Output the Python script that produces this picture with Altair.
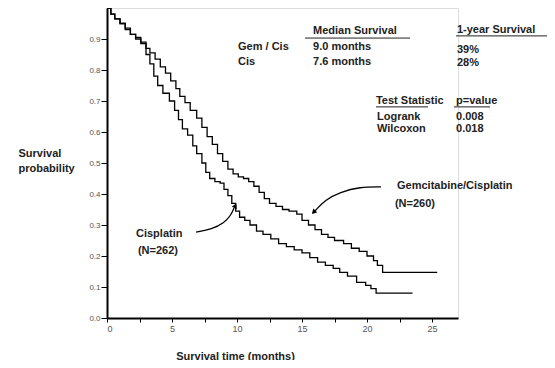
import altair as alt
import pandas as pd

FONT = "Liberation Sans"
INK = "#222222"

# Kaplan-Meier curves (months, survival probability)
gem_months = [0, 0.3, 0.6, 1.0, 1.4, 1.8, 2.2, 2.6, 3.0, 3.3, 3.7, 4.1, 4.5, 4.9, 5.3, 5.6,
              6.0, 6.4, 6.9, 7.3, 7.7, 8.1, 8.5, 8.9, 9.3, 9.7, 10.1, 10.5, 10.9, 11.3, 11.7,
              12.1, 12.5, 13.0, 13.5, 14.0, 14.6, 15.0, 15.5, 16.0, 16.5, 17.0, 17.5, 18.2,
              18.8, 19.4, 20.0, 20.5, 20.8, 21.2, 25.4]
gem_surv = [1.0, 0.98, 0.965, 0.95, 0.935, 0.915, 0.905, 0.89, 0.87, 0.855, 0.835, 0.81, 0.79,
            0.765, 0.74, 0.715, 0.695, 0.67, 0.645, 0.615, 0.585, 0.56, 0.53, 0.505, 0.48, 0.465,
            0.455, 0.45, 0.44, 0.425, 0.405, 0.385, 0.37, 0.36, 0.35, 0.345, 0.335, 0.315, 0.30,
            0.285, 0.27, 0.26, 0.25, 0.24, 0.225, 0.215, 0.20, 0.185, 0.17, 0.147, 0.147]

cis_months = [0, 0.3, 0.6, 1.0, 1.4, 1.8, 2.2, 2.6, 3.0, 3.3, 3.6, 3.9, 4.3, 4.8, 5.2, 5.5,
              5.8, 6.2, 6.6, 6.9, 7.3, 7.6, 7.9, 8.3, 8.7, 9.0, 9.3, 9.6, 9.9, 10.2, 10.6,
              11.0, 11.5, 12.0, 12.6, 13.2, 13.8, 14.4, 15.0, 15.6, 16.2, 16.8, 17.4, 17.9,
              18.5, 19.2, 19.9, 20.3, 20.7, 23.5]
cis_surv = [1.0, 0.98, 0.965, 0.95, 0.93, 0.915, 0.90, 0.885, 0.85, 0.82, 0.78, 0.75, 0.725,
            0.70, 0.67, 0.64, 0.61, 0.59, 0.555, 0.53, 0.50, 0.47, 0.45, 0.44, 0.435, 0.415,
            0.395, 0.37, 0.345, 0.325, 0.315, 0.30, 0.28, 0.27, 0.255, 0.24, 0.23, 0.22, 0.21,
            0.195, 0.18, 0.17, 0.16, 0.147, 0.135, 0.115, 0.105, 0.095, 0.08, 0.08]

x_ticks = [0, 2.5, 5, 7.5, 10, 12.5, 15, 17.5, 20, 22.5, 25]
y_ticks = [0.0, 0.1, 0.2, 0.3, 0.4, 0.5, 0.6, 0.7, 0.8, 0.9]

# annotation texts (month, probability)
ann_text = ["Gem / Cis", "Cis", "Median Survival", "9.0 months", "7.6 months",
            "1-year Survival", "39%", "28%", "Test Statistic", "p=value", "Logrank",
            "Wilcoxon", "0.008", "0.018", "Gemcitabine/Cisplatin", "(N=260)",
            "Cisplatin", "(N=262)"]
ann_x = [10.08, 10.08, 15.85, 15.85, 15.85, 26.92, 26.92, 26.92, 20.69, 26.85, 20.77,
         20.77, 26.85, 26.85, 22.31, 22.15, 2.23, 2.38]
ann_y = [0.874, 0.826, 0.926, 0.874, 0.826, 0.929, 0.865, 0.823, 0.700, 0.700, 0.648,
         0.610, 0.648, 0.610, 0.426, 0.368, 0.271, 0.216]

# header underlines
ul_x1 = [15.23, 26.85, 20.69, 26.69]
ul_x2 = [23.31, 34.08, 24.69, 29.46]
ul_y = [0.903, 0.910, 0.681, 0.681]

# curved arrows
arr_gem_x = [21.08, 19.46, 17.92, 16.77, 16.0]
arr_gem_y = [0.423, 0.423, 0.406, 0.381, 0.345]
arr_cis_x = [6.85, 8.08, 9.0, 9.54, 9.77]
arr_cis_y = [0.277, 0.287, 0.306, 0.332, 0.355]

curves = pd.DataFrame({
    "month": gem_months + cis_months,
    "surv": gem_surv + cis_surv,
    "arm": ["Gem/Cis"] * len(gem_months) + ["Cis"] * len(cis_months),
})
ann = pd.DataFrame({"x": ann_x, "y": ann_y, "t": ann_text})
ul = pd.DataFrame({"x1": ul_x1, "x2": ul_x2, "y": ul_y})
arrows = pd.DataFrame({
    "x": arr_gem_x + arr_cis_x,
    "y": arr_gem_y + arr_cis_y,
    "i": list(range(5)) + list(range(5)),
    "a": ["g"] * 5 + ["c"] * 5,
})
heads = pd.DataFrame({"x": [15.93, 9.84], "y": [0.343, 0.360], "ang": [225, 22]})

xs = alt.Scale(domain=[0, 27], nice=False, zero=False)
ys = alt.Scale(domain=[0, 1.0], nice=False)

x_axis = alt.Axis(
    values=x_ticks, grid=False, domainColor="black", domainWidth=2,
    tickColor="black", tickSize=4, tickWidth=1, labelFontSize=9, labelColor="#555555",
    labelFont=FONT, labelPadding=2,
    labelExpr="datum.value % 5 == 0 ? toString(datum.value) : ''",
    title="Survival time (months)", titleFont=FONT, titleFontSize=11, titleFontWeight="bold",
    titleColor=INK, titleX=128, titleY=41, titleBaseline="alphabetic", titleAlign="center",
)
y_axis = alt.Axis(
    values=y_ticks, format=".1f", grid=False, domainColor="black", domainWidth=2,
    tickColor="black", tickSize=6, tickWidth=1, labelFontSize=8, labelColor="#555555",
    labelFont=FONT, labelPadding=1, labelOverlap=False,
    title=["Survival", "probability"], titleFont=FONT, titleFontSize=11,
    titleFontWeight="bold", titleColor=INK, titleAngle=0, titleAlign="left",
    titleX=-89, titleY=148, titleBaseline="alphabetic", titleLineHeight=15,
)


def X(field):
    return alt.X(field, scale=xs, axis=x_axis)


def Y(field):
    return alt.Y(field, scale=ys, axis=y_axis)


lines = alt.Chart(curves).mark_line(interpolate="step-after", color="black",
                                    strokeWidth=1.3).encode(
    x=X("month:Q"), y=Y("surv:Q"), detail="arm:N")

texts = alt.Chart(ann).mark_text(align="left", baseline="middle", font=FONT, fontSize=11,
                                 fontWeight="bold", color=INK).encode(
    x=X("x:Q"), y=Y("y:Q"), text="t:N")

unders = alt.Chart(ul).mark_rule(color=INK, strokeWidth=1).encode(
    x=X("x1:Q"), x2="x2:Q", y=Y("y:Q"))

arrow_lines = alt.Chart(arrows).mark_line(interpolate="basis", color="black",
                                          strokeWidth=1.3).encode(
    x=X("x:Q"), y=Y("y:Q"), detail="a:N", order="i:Q")

arrow_heads = alt.Chart(heads).mark_point(shape="triangle", filled=True, color="black",
                                          size=30, opacity=1).encode(
    x=X("x:Q"), y=Y("y:Q"), angle=alt.Angle("ang:Q", scale=None))

chart = alt.layer(lines, unders, texts, arrow_lines, arrow_heads).properties(
    width=351, height=310,
    padding={"left": 99, "top": 0, "right": 89, "bottom": 42},
    autosize=alt.AutoSizeParams(type="none"),
).configure_view(stroke=None).configure(background="white")

chart.save("out.html", embed_options={"renderer": "svg", "actions": False})
